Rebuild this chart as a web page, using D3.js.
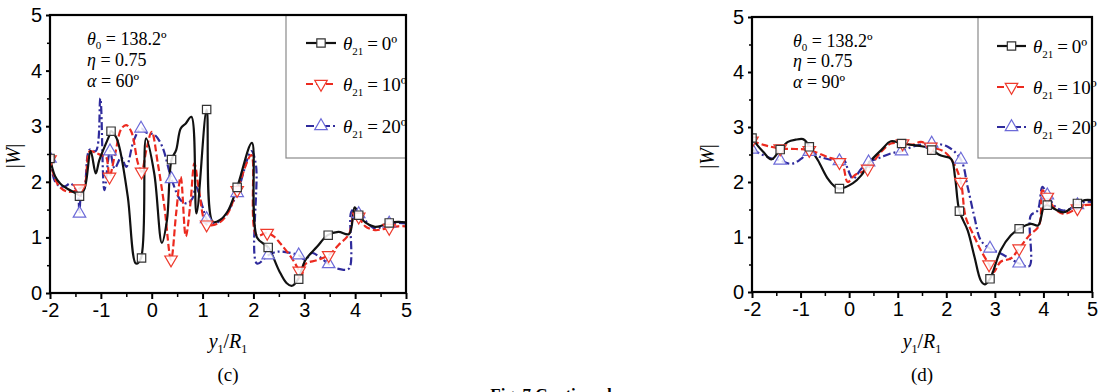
<!DOCTYPE html>
<html>
<head>
<meta charset="utf-8">
<script src="https://cdn.jsdelivr.net/npm/d3@7"></script>
<style>
  body { margin: 0; background: #fff; }
  svg { display: block; }
  .tick-label { font-family: Arial, "Liberation Sans", sans-serif; font-size: 20px; }
  .serif { font-family: "Liberation Serif", "Times New Roman", serif; }
</style>
</head>
<body>
<svg id="fig" width="1103" height="392"></svg>
<script>
// ---- data ----
const xTicks = [-2, -1, 0, 1, 2, 3, 4, 5];
const yTicks = [0, 1, 2, 3, 4, 5];
const seriesNames = ["0º", "10º", "20º"];

// panel (c), alpha = 60
const cBlack = [[-2, 2.42], [-1.9, 2.1], [-1.8, 1.97], [-1.65, 1.87], [-1.5, 1.8], [-1.42, 1.76], [-1.32, 1.88],
  [-1.2, 2.55], [-1.1, 2.15], [-1.03, 2.39], [-0.83, 2.84], [-0.8, 2.91], [-0.7, 2.8], [-0.63, 2.6], [-0.47, 1.73],
  [-0.31, 0.53], [-0.21, 0.63], [-0.11, 2.78], [0.05, 2.15], [0.2, 0.9], [0.3, 1.31], [0.39, 2.4], [0.48, 2.57],
  [0.57, 2.96], [0.67, 3.05], [0.78, 3.17], [0.88, 1.43], [1.08, 3.3], [1.2, 1.28], [1.35, 1.32], [1.5, 1.48],
  [1.68, 1.9], [1.97, 2.7], [2.07, 1.0], [2.29, 0.82], [2.5, 0.41], [2.65, 0.18], [2.76, 0.13], [2.88, 0.25],
  [3.02, 0.59], [3.25, 0.83], [3.46, 1.04], [3.67, 1.1], [3.88, 1.06], [3.99, 1.54], [4.07, 1.42], [4.2, 1.27],
  [4.39, 1.19], [4.55, 1.22], [4.67, 1.26], [4.85, 1.28], [5, 1.27]];
const cRed = [[-2, 2.4], [-1.9, 2.05], [-1.8, 1.9], [-1.65, 1.82], [-1.5, 1.84], [-1.42, 1.88], [-1.32, 1.95],
  [-1.22, 2.55], [-1.1, 2.52], [-1.0, 2.48], [-0.9, 2.45], [-0.83, 2.1], [-0.72, 2.5], [-0.6, 2.95], [-0.5, 3.02],
  [-0.4, 2.9], [-0.27, 2.33], [-0.2, 2.18], [-0.1, 2.6], [0.0, 2.9], [0.12, 2.33], [0.25, 1.55], [0.38, 0.6],
  [0.48, 1.43], [0.57, 2.09], [0.67, 1.02], [0.76, 1.6], [0.84, 2.33], [0.93, 1.85], [1.07, 1.24], [1.2, 1.22],
  [1.35, 1.28], [1.5, 1.44], [1.68, 1.85], [1.96, 2.48], [2.06, 1.04], [2.27, 1.08], [2.4, 1.02], [2.53, 0.89],
  [2.76, 0.62], [2.9, 0.4], [2.95, 0.32], [3.02, 0.52], [3.25, 0.59], [3.48, 0.68], [3.67, 0.86], [3.88, 1.06],
  [3.99, 1.47], [4.07, 1.37], [4.2, 1.2], [4.39, 1.13], [4.55, 1.15], [4.67, 1.17], [4.85, 1.2], [5, 1.2]];
const cBlue = [[-2, 2.42], [-1.9, 2.0], [-1.8, 1.92], [-1.7, 1.92], [-1.6, 1.97], [-1.5, 1.88], [-1.45, 1.77],
  [-1.42, 1.43], [-1.39, 1.77], [-1.32, 1.9], [-1.22, 2.58], [-1.1, 2.55], [-1.01, 3.5], [-0.93, 1.85],
  [-0.82, 2.55], [-0.73, 2.24], [-0.6, 2.44], [-0.5, 2.27], [-0.35, 2.75], [-0.21, 2.96], [-0.1, 2.88],
  [0.05, 2.85], [0.2, 2.65], [0.39, 2.05], [0.57, 1.67], [0.7, 1.61], [0.8, 1.7], [0.87, 1.91], [1.0, 1.55],
  [1.08, 1.33], [1.2, 1.25], [1.35, 1.3], [1.5, 1.47], [1.68, 1.8], [1.96, 2.55], [2.05, 2.3], [2.07, 0.53],
  [2.29, 0.68], [2.45, 0.74], [2.6, 0.74], [2.89, 0.68], [3.02, 0.6], [3.15, 0.72], [3.3, 0.65], [3.48, 0.52],
  [3.7, 0.43], [3.88, 0.44], [3.92, 1.45], [3.99, 1.52], [4.07, 1.42], [4.2, 1.3], [4.39, 1.16], [4.55, 1.2],
  [4.67, 1.24], [4.85, 1.26], [5, 1.25]];
const cBlackMarks = [[-2, 2.42], [-1.42, 1.74], [-0.8, 2.91], [-0.2, 0.63], [0.39, 2.4], [1.08, 3.3], [1.68, 1.9],
  [2.29, 0.82], [2.89, 0.25], [3.47, 1.04], [4.07, 1.4], [4.67, 1.26]];
const cRedMarks = [[-2, 2.4], [-1.42, 1.88], [-0.83, 2.09], [-0.2, 2.18], [0.38, 0.6], [1.08, 1.23], [1.68, 1.85],
  [2.27, 1.08], [2.9, 0.4], [3.48, 0.68], [4.07, 1.37], [4.67, 1.17]];
const cBlueMarks = [[-2, 2.42], [-1.42, 1.43], [-0.82, 2.55], [-0.21, 2.96], [0.39, 2.05], [1.08, 1.33],
  [1.68, 1.8], [2.29, 0.68], [2.89, 0.68], [3.48, 0.52], [4.07, 1.42], [4.67, 1.25]];

// panel (d), alpha = 90
const dBlack = [[-2, 2.81], [-1.9, 2.68], [-1.77, 2.55], [-1.6, 2.41], [-1.42, 2.59], [-1.26, 2.73], [-1.1, 2.77],
  [-0.95, 2.78], [-0.88, 2.73], [-0.82, 2.64], [-0.64, 2.39], [-0.44, 2.06], [-0.3, 1.92], [-0.2, 1.88],
  [0.08, 1.98], [0.25, 2.12], [0.42, 2.36], [0.66, 2.58], [0.86, 2.74], [1.08, 2.7], [1.34, 2.67], [1.55, 2.64],
  [1.7, 2.58], [1.89, 2.48], [2.1, 2.42], [2.18, 2.09], [2.27, 1.47], [2.44, 1.12], [2.58, 0.64], [2.71, 0.21],
  [2.79, 0.14], [2.9, 0.24], [3.12, 0.76], [3.33, 1.03], [3.5, 1.15], [3.74, 1.24], [3.89, 1.21], [4.01, 1.55],
  [4.08, 1.58], [4.25, 1.5], [4.42, 1.45], [4.7, 1.61], [4.85, 1.67], [5, 1.67]];
const dRed = [[-2, 2.75], [-1.74, 2.67], [-1.42, 2.61], [-1.1, 2.6], [-0.82, 2.58], [-0.44, 2.45], [-0.16, 2.36],
  [-0.03, 2.0], [0.11, 2.12], [0.38, 2.24], [0.66, 2.55], [0.86, 2.7], [1.1, 2.7], [1.3, 2.68], [1.48, 2.73],
  [1.68, 2.64], [1.96, 2.55], [2.16, 2.33], [2.3, 2.0], [2.4, 1.36], [2.58, 1.0], [2.71, 0.76], [2.88, 0.5],
  [2.97, 0.36], [3.12, 0.55], [3.33, 0.61], [3.5, 0.79], [3.71, 1.03], [3.91, 1.21], [3.98, 1.85], [4.08, 1.73],
  [4.25, 1.5], [4.42, 1.42], [4.7, 1.52], [4.85, 1.58], [5, 1.59]];
const dBlue = [[-2, 2.59], [-1.67, 2.45], [-1.42, 2.39], [-1.19, 2.33], [-0.99, 2.42], [-0.82, 2.55], [-0.58, 2.45],
  [-0.2, 2.38], [-0.1, 2.39], [-0.03, 2.24], [0.08, 2.06], [0.25, 2.24], [0.4, 2.36], [0.66, 2.45], [0.86, 2.52],
  [1.08, 2.56], [1.34, 2.65], [1.7, 2.7], [2.03, 2.64], [2.3, 2.41], [2.44, 1.91], [2.58, 1.36], [2.71, 0.94],
  [2.9, 0.79], [3.12, 0.7], [3.5, 0.52], [3.71, 0.47], [3.74, 1.39], [3.88, 1.48], [3.98, 1.91], [4.08, 1.76],
  [4.25, 1.55], [4.42, 1.48], [4.7, 1.58], [4.85, 1.64], [5, 1.64]];
const dBlackMarks = [[-2, 2.8], [-1.42, 2.59], [-0.82, 2.64], [-0.2, 1.88], [1.08, 2.7], [1.7, 2.58], [2.27, 1.47],
  [2.9, 0.24], [3.5, 1.15], [4.08, 1.58], [4.7, 1.61]];
const dRedMarks = [[-2, 2.75], [-1.42, 2.61], [-0.82, 2.58], [-0.2, 2.36], [0.38, 2.24], [1.1, 2.7], [1.68, 2.64],
  [2.3, 2.0], [2.88, 0.5], [3.5, 0.79], [4.08, 1.73], [4.7, 1.52]];
const dBlueMarks = [[-2, 2.59], [-1.42, 2.39], [-0.82, 2.55], [-0.2, 2.38], [0.4, 2.36], [1.08, 2.56], [1.7, 2.7],
  [2.3, 2.41], [2.9, 0.79], [3.5, 0.52], [4.08, 1.76], [4.7, 1.58]];

// ---- styles ----
const styles = [
  { line: "#111", mark: "#333", dash: null, symbol: "square" },
  { line: "#ec2a1f", mark: "#ee3a2c", dash: "7,3", symbol: "down" },
  { line: "#2f2b9c", mark: "#6c6ad8", dash: "8,3,2,3", symbol: "up" },
];

const svg = d3.select("#fig");

function markerPath(kind) {
  if (kind === "square") return d3.symbol(d3.symbolSquare, 70)();
  return d3.symbol(d3.symbolTriangle, 68)();
}

function drawPanel(p) {
  const x = d3.scaleLinear().domain([-2, 5]).range([p.left, p.right]);
  const y = d3.scaleLinear().domain([0, 5]).range([p.bottom, p.top]);
  const g = svg.append("g");

  // minor + major ticks (outward)
  const xMinor = d3.range(-1.5, 5, 1);
  const yMinor = d3.range(0.5, 5, 1);
  g.append("g").attr("transform", `translate(0,${p.bottom})`)
    .call(d3.axisBottom(x).tickValues(xTicks).tickSize(6).tickFormat(d => String(d)).tickPadding(4))
    .call(a => a.select(".domain").remove())
    .call(a => a.selectAll("line").attr("stroke-width", 2))
    .call(a => a.selectAll("text").attr("class", "tick-label").attr("fill", "#000"));
  g.append("g").attr("transform", `translate(0,${p.bottom})`)
    .call(d3.axisBottom(x).tickValues(xMinor).tickSize(4).tickFormat(""))
    .call(a => a.select(".domain").remove())
    .call(a => a.selectAll("line").attr("stroke-width", 1.5));
  g.append("g").attr("transform", `translate(${p.left},0)`)
    .call(d3.axisLeft(y).tickValues(yTicks).tickSize(4).tickFormat(d => String(d)).tickPadding(4))
    .call(a => a.select(".domain").remove())
    .call(a => a.selectAll("line").attr("stroke-width", 2))
    .call(a => a.selectAll("text").attr("class", "tick-label").attr("fill", "#000"));
  g.append("g").attr("transform", `translate(${p.left},0)`)
    .call(d3.axisLeft(y).tickValues(yMinor).tickSize(3).tickFormat(""))
    .call(a => a.select(".domain").remove())
    .call(a => a.selectAll("line").attr("stroke-width", 1.5));

  const clipId = "clip-" + p.id;
  svg.append("clipPath").attr("id", clipId).append("rect")
    .attr("x", p.left).attr("y", p.top)
    .attr("width", p.right - p.left).attr("height", p.bottom - p.top);

  // legend box (drawn under the lines)
  g.append("rect")
    .attr("x", p.legend.x0).attr("y", p.top)
    .attr("width", p.right - p.legend.x0).attr("height", p.legend.y1 - p.top)
    .attr("fill", "#fff").attr("stroke", "#8a8a8a").attr("stroke-width", 1.2);

  const line = d3.line()
    .x(d => x(d[0])).y(d => y(d[1]))
    .curve(d3.curveCatmullRom.alpha(0.5));

  const plot = g.append("g").attr("clip-path", `url(#${clipId})`);
  // draw in reverse order so black sits on top
  [2, 1, 0].forEach(i => {
    const s = styles[i];
    plot.append("path")
      .attr("d", line(p.series[i]))
      .attr("fill", "none")
      .attr("stroke", s.line)
      .attr("stroke-width", 2.2)
      .attr("stroke-linejoin", "round")
      .attr("stroke-dasharray", s.dash);
  });
  [2, 1, 0].forEach(i => {
    const s = styles[i];
    plot.selectAll(null)
      .data(p.marks[i])
      .join("path")
      .attr("d", markerPath(s.symbol))
      .attr("transform", d => `translate(${x(d[0])},${y(d[1])})` + (s.symbol === "down" ? " rotate(180)" : ""))
      .attr("fill", "#fff")
      .attr("fill-opacity", 0.85)
      .attr("stroke", s.mark)
      .attr("stroke-width", 1.2);
  });

  // frame
  g.append("rect")
    .attr("x", p.left).attr("y", p.top)
    .attr("width", p.right - p.left).attr("height", p.bottom - p.top)
    .attr("fill", "none").attr("stroke", "#000").attr("stroke-width", 2.2);

  // legend entries
  p.legend.rows.forEach((ry, i) => {
    const s = styles[i];
    const lx0 = p.legend.lx0, lx1 = p.legend.lx1;
    g.append("line")
      .attr("x1", lx0).attr("x2", lx1).attr("y1", ry).attr("y2", ry)
      .attr("stroke", s.line).attr("stroke-width", 2.2)
      .attr("stroke-dasharray", s.dash);
    g.append("path")
      .attr("d", markerPath(s.symbol))
      .attr("transform", `translate(${(lx0 + lx1) / 2},${ry})` + (s.symbol === "down" ? " rotate(180)" : ""))
      .attr("fill", "#fff").attr("stroke", s.mark).attr("stroke-width", 1.2);
    const t = g.append("text").attr("class", "serif")
      .attr("x", p.legend.tx).attr("y", ry + 7)
      .attr("font-size", 19).attr("fill", "#000");
    t.append("tspan").attr("font-style", "italic").text("θ");
    t.append("tspan").attr("font-size", 11).attr("dy", 5).text("21");
    t.append("tspan").attr("dy", -5).text("\u2009=\u2009" + seriesNames[i]);
  });

  // annotation
  const ax = p.note.x;
  const t0 = g.append("text").attr("class", "serif").attr("x", ax).attr("y", p.note.y[0])
    .attr("font-size", 18).attr("fill", "#000");
  t0.append("tspan").attr("font-style", "italic").text("θ");
  t0.append("tspan").attr("font-size", 11).attr("dy", 4).text("0");
  t0.append("tspan").attr("dy", -4).text(" = 138.2º");
  const t1 = g.append("text").attr("class", "serif").attr("x", ax).attr("y", p.note.y[1])
    .attr("font-size", 18).attr("fill", "#000");
  t1.append("tspan").attr("font-style", "italic").text("η");
  t1.append("tspan").text(" = 0.75");
  const t2 = g.append("text").attr("class", "serif").attr("x", ax).attr("y", p.note.y[2])
    .attr("font-size", 18).attr("fill", "#000");
  t2.append("tspan").attr("font-style", "italic").text("α");
  t2.append("tspan").text(" = " + p.note.alpha);

  // axis titles
  const cx = (p.left + p.right) / 2;
  const yl = g.append("text").attr("class", "serif")
    .attr("transform", `translate(${p.yLabelX},${(p.top + p.bottom) / 2 + 2}) rotate(-90)`)
    .attr("text-anchor", "middle").attr("font-size", 20).attr("fill", "#000");
  yl.append("tspan").text("|");
  yl.append("tspan").attr("font-style", "italic").text("W");
  yl.append("tspan").text("|");

  const xl = g.append("text").attr("class", "serif")
    .attr("x", cx).attr("y", 348).attr("text-anchor", "middle")
    .attr("font-size", 20).attr("fill", "#000");
  xl.append("tspan").attr("font-style", "italic").text("y");
  xl.append("tspan").attr("font-size", 12).attr("dy", 5).text("1");
  xl.append("tspan").attr("dy", -5).text("/");
  xl.append("tspan").attr("font-style", "italic").text("R");
  xl.append("tspan").attr("font-size", 12).attr("dy", 5).text("1");

  g.append("text").attr("class", "serif")
    .attr("x", cx).attr("y", 381).attr("text-anchor", "middle")
    .attr("font-size", 19).attr("fill", "#000").text(p.label);
}

drawPanel({
  id: "c", left: 50, right: 406, top: 15, bottom: 293,
  series: [cBlack, cRed, cBlue], marks: [cBlackMarks, cRedMarks, cBlueMarks],
  legend: { x0: 286, y1: 158, lx0: 306, lx1: 336, tx: 343, rows: [43, 84, 126] },
  note: { x: 87, y: [45, 66, 87], alpha: "60º" },
  yLabelX: 20, label: "(c)"
});

drawPanel({
  id: "d", left: 752, right: 1092, top: 17, bottom: 292,
  series: [dBlack, dRed, dBlue], marks: [dBlackMarks, dRedMarks, dBlueMarks],
  legend: { x0: 978, y1: 158, lx0: 997, lx1: 1026, tx: 1033, rows: [46, 87, 127] },
  note: { x: 793, y: [47, 67, 88], alpha: "90º" },
  yLabelX: 714, label: "(d)"
});

// figure caption, partly below the bottom edge as in the source page
svg.append("text").attr("class", "serif")
  .attr("x", 551).attr("y", 400).attr("text-anchor", "middle")
  .attr("font-size", 17).attr("font-weight", "bold").attr("fill", "#000")
  .text("Fig. 7  Continued");
</script>
</body>
</html>
